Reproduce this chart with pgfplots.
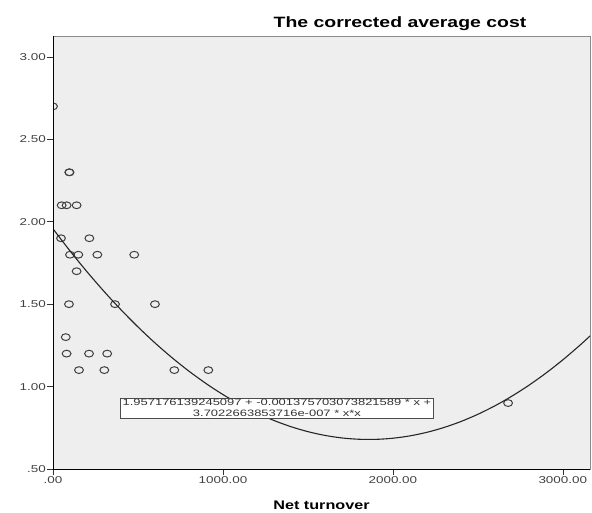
\documentclass[border=0pt]{standalone}
\usepackage{pgfplots}
\pgfplotsset{compat=1.18}
\usepackage{fontspec}
\setmainfont{Liberation Sans}
\newfontfamily\tickfont[FakeStretch=1.35]{Liberation Sans}
\newfontfamily\titlefont[FakeStretch=1.3]{Liberation Sans}
\newfontfamily\eqfont[FakeStretch=1.4]{Liberation Sans}
\definecolor{plotbg}{HTML}{EEEEEE}
\definecolor{tickgray}{HTML}{404040}
\begin{document}
\begin{tikzpicture}
\begin{axis}[
  scale only axis, width=537bp, height=433bp,
  xmin=0, xmax=3160, ymin=0.5, ymax=3.127,
  axis background/.style={fill=plotbg},
  axis line style={draw=black!45, line width=0.6bp},
  xtick={0,1000,2000,3000},
  xticklabels={.00,1000.00,2000.00,3000.00},
  ytick={0.5,1,1.5,2,2.5,3},
  yticklabels={.50,1.00,1.50,2.00,2.50,3.00},
  xtick pos=bottom, ytick pos=left,
  tick align=outside,
  major tick length=6bp,
  tick style={black!80, line width=0.6bp},
  ticklabel style={font=\tickfont\fontsize{10}{12}\selectfont, text=tickgray},
  yticklabel style={inner xsep=1bp},
  xticklabel style={inner ysep=1.5bp},
  xlabel={Net turnover},
  xlabel style={font=\titlefont\bfseries\fontsize{12.5}{14}\selectfont, at={(rel axis cs:0.5,0)}, anchor=center, yshift=-36bp},
  clip marker paths=true,
  /pgf/number format/assume math mode=true,
]
\addplot[only marks, mark=o, mark size=3.4bp, mark options={xscale=1.3, draw=black!75, line width=1bp}] table {
x y
0 2.70
96 2.30
97 2.30
51 2.10
80 2.10
139 2.10
47 1.90
214 1.90
100 1.80
149 1.80
261 1.80
478 1.80
139 1.70
94 1.50
365 1.50
600 1.50
75 1.30
80 1.20
212 1.20
319 1.20
153 1.10
302 1.10
714 1.10
914 1.10
2678 0.90
};
\addplot[smooth, draw=black!85, line width=1.1bp] table {
x y
0 1.957176
100 1.823308
200 1.696844
300 1.577785
400 1.466131
500 1.361881
600 1.265036
700 1.175595
800 1.093559
900 1.018927
1000 0.951700
1100 0.891877
1200 0.839458
1300 0.794445
1400 0.756836
1500 0.726631
1600 0.703831
1700 0.688436
1800 0.680444
1900 0.679858
2000 0.686677
2100 0.700898
2200 0.722526
2300 0.751558
2400 0.787994
2500 0.831835
2600 0.883080
2700 0.941730
2800 1.007784
2900 1.081243
3000 1.162107
3100 1.250374
3160 1.306896
};
\coordinate (SW) at (rel axis cs:0,0);
\coordinate (NW) at (rel axis cs:0,1);
\coordinate (SE) at (rel axis cs:1,0);
\coordinate (NE) at (rel axis cs:1,1);
\coordinate (EQ) at (axis cs:1318,0.871);
\end{axis}
\draw[black, line width=0.9bp] (NW) -- (SW) -- (SE);
\node[draw=black!70, fill=white, line width=0.6bp, align=center, inner xsep=2bp, inner ysep=1.5bp,
  font=\eqfont\fontsize{9.3}{10.5}\selectfont, text=black!80] at (EQ)
  {1.957176139245097 + -0.001375703073821589 * x +\\3.7022663853716e-007 * x*x};
\node[font=\titlefont\bfseries\fontsize{15}{17}\selectfont, anchor=base] at ([xshift=-190bp,yshift=8bp]NE) {The corrected average cost};
\pgfresetboundingbox
\path[use as bounding box] ([xshift=-53bp,yshift=-44bp]SW) rectangle ([xshift=2bp,yshift=36bp]NE);
\end{tikzpicture}
\end{document}
